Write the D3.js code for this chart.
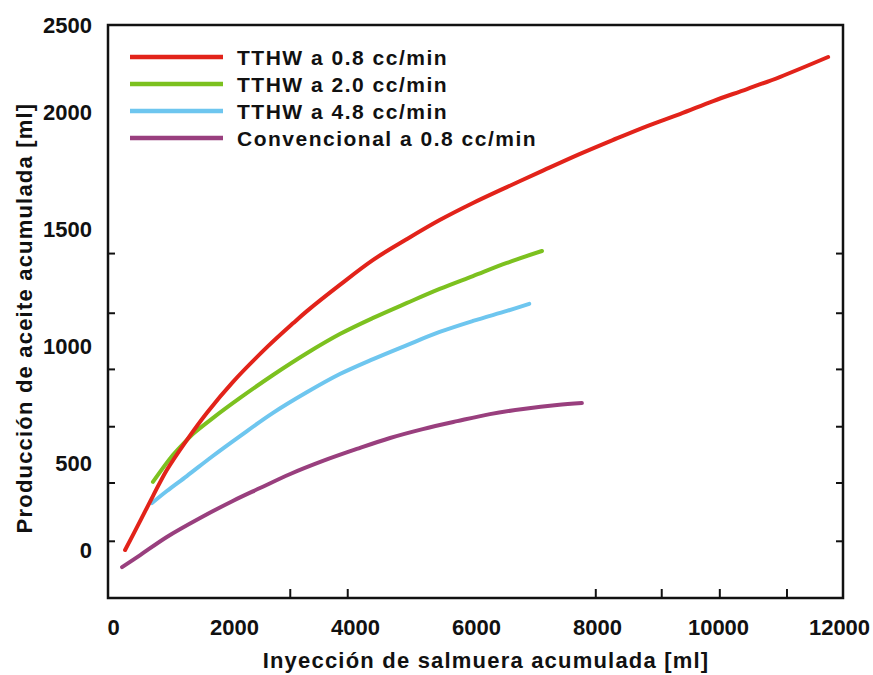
<!DOCTYPE html>
<html>
<head>
<meta charset="utf-8">
<script src="https://cdn.jsdelivr.net/npm/d3@7"></script>
<style>
  html, body { margin: 0; padding: 0; background: #fff; }
  svg { display: block; font-family: "Liberation Sans", Arial, sans-serif; }
</style>
</head>
<body>
<svg id="chart" width="873" height="675"></svg>
<script>
// ---- data ----
const seriesNames = ["TTHW a 0.8 cc/min", "TTHW a 2.0 cc/min", "TTHW a 4.8 cc/min", "Convencional a 0.8 cc/min"];
const seriesColors = ["#e2231a", "#7cc11f", "#6ec6ef", "#993f7e"];

const redX = [200, 450, 660, 890, 1220, 1550, 1980, 2550, 2980, 3210, 3750, 4300, 4860, 5400, 5950, 6510, 7060, 7720, 8260, 8830, 9370, 9920, 10480, 11020, 11820];
const redY = [0, 167, 310, 460, 598, 714, 846, 996, 1098, 1150, 1261, 1368, 1457, 1538, 1611, 1679, 1744, 1821, 1880, 1940, 1991, 2063, 2132, 2201, 2316];

const greenX = [660, 990, 1220, 1320, 1650, 2100, 2645, 3210, 3750, 4300, 4860, 5400, 5950, 6510, 7090];
const greenY = [391, 534, 598, 624, 692, 778, 876, 970, 1051, 1120, 1184, 1244, 1299, 1355, 1406];

const blueX = [645, 890, 1220, 1650, 2100, 2645, 3210, 3750, 4300, 4860, 5400, 5950, 6510, 6880];
const blueY = [270, 339, 425, 530, 615, 714, 803, 880, 944, 1004, 1060, 1107, 1150, 1180];

const purpleX = [150, 450, 890, 1440, 1980, 2430, 2930, 3470, 4030, 4580, 5120, 5690, 6230, 6780, 7340, 7750];
const purpleY = [-98, -29, 75, 184, 282, 356, 437, 509, 560, 607, 645, 679, 709, 731, 748, 756];

const xTickLabels = [0, 2000, 4000, 6000, 8000, 10000, 12000];
const yTickLabels = [0, 500, 1000, 1500, 2000, 2500];
const xMinorTicks = [2930, 3880, 7980, 9070, 10030, 11140];
const yMinorTicks = [50, 385, 655, 900, 1140, 1395];

const xTitle = "Inyección de salmuera acumulada [ml]";
const yTitle = "Producción de aceite acumulada [ml]";

// ---- layout ----
const svg = d3.select("#chart");
const frame = { left: 108, right: 843, top: 25, bottom: 598 };

const x = d3.scaleLinear().domain([0, 12000]).range([113, 839]);
// the printed labels are unevenly spaced; follow them piecewise
const y = d3.scaleLinear().domain([0, 500, 2000, 2500]).range([550, 463, 112, 25]);

// frame
svg.append("rect")
  .attr("x", frame.left).attr("y", frame.top)
  .attr("width", frame.right - frame.left).attr("height", frame.bottom - frame.top)
  .attr("fill", "none").attr("stroke", "#111").attr("stroke-width", 2.5);

// minor ticks
const tickG = svg.append("g").attr("stroke", "#111").attr("stroke-width", 2);
tickG.selectAll("line.yl").data(yMinorTicks).join("line").attr("class", "yl")
  .attr("x1", frame.left).attr("x2", frame.left + 7)
  .attr("y1", d => y(d)).attr("y2", d => y(d));
tickG.selectAll("line.yr").data(yMinorTicks).join("line").attr("class", "yr")
  .attr("x1", frame.right).attr("x2", frame.right - 7)
  .attr("y1", d => y(d)).attr("y2", d => y(d));
tickG.selectAll("line.xb").data(xMinorTicks).join("line").attr("class", "xb")
  .attr("x1", d => x(d)).attr("x2", d => x(d))
  .attr("y1", frame.bottom).attr("y2", frame.bottom - 9);

// axes labels
const labelFont = "Liberation Sans, Arial, sans-serif";
const yAxis = d3.axisLeft(y).tickValues(yTickLabels).tickSize(0).tickPadding(0).tickFormat(d3.format("d"));
const gy = svg.append("g").attr("transform", `translate(92,0)`).call(yAxis);
gy.select(".domain").remove();
gy.selectAll("text").attr("font-size", 22).attr("font-weight", "bold")
  .attr("font-family", labelFont).attr("fill", "#111");

const xAxis = d3.axisBottom(x).tickValues(xTickLabels).tickSize(0).tickPadding(0).tickFormat(d3.format("d"));
const gx = svg.append("g").attr("transform", `translate(0,619)`).call(xAxis);
gx.select(".domain").remove();
gx.selectAll("text").attr("font-size", 22).attr("font-weight", "bold")
  .attr("font-family", labelFont).attr("fill", "#111");

// titles
svg.append("text").attr("x", 486).attr("y", 668).attr("text-anchor", "middle")
  .attr("font-size", 22).attr("font-weight", "bold").attr("letter-spacing", 1.2)
  .attr("fill", "#111").text(xTitle);
svg.append("text").attr("transform", "translate(32,318) rotate(-90)").attr("text-anchor", "middle")
  .attr("font-size", 22).attr("font-weight", "bold").attr("letter-spacing", 1.2)
  .attr("fill", "#111").text(yTitle);

// series
const series = [
  { xs: redX, ys: redY },
  { xs: greenX, ys: greenY },
  { xs: blueX, ys: blueY },
  { xs: purpleX, ys: purpleY }
];
const line = d3.line().x(d => x(d[0])).y(d => y(d[1])).curve(d3.curveCatmullRom.alpha(0.5));
// draw purple, blue, green first, red on top
[3, 2, 1, 0].forEach(i => {
  const s = series[i];
  svg.append("path")
    .datum(s.xs.map((v, k) => [v, s.ys[k]]))
    .attr("d", line)
    .attr("fill", "none")
    .attr("stroke", seriesColors[i])
    .attr("stroke-width", 4)
    .attr("stroke-linecap", "round");
});

// legend
const legend = svg.append("g");
seriesNames.forEach((name, i) => {
  const ly = 57 + i * 27;
  legend.append("line").attr("x1", 130).attr("x2", 223).attr("y1", ly).attr("y2", ly)
    .attr("stroke", seriesColors[i]).attr("stroke-width", 4.5);
  legend.append("text").attr("x", 237).attr("y", ly + 7.5)
    .attr("font-size", 21).attr("font-weight", "bold").attr("letter-spacing", 1.5)
    .attr("fill", "#111").text(name);
});
</script>
</body>
</html>
